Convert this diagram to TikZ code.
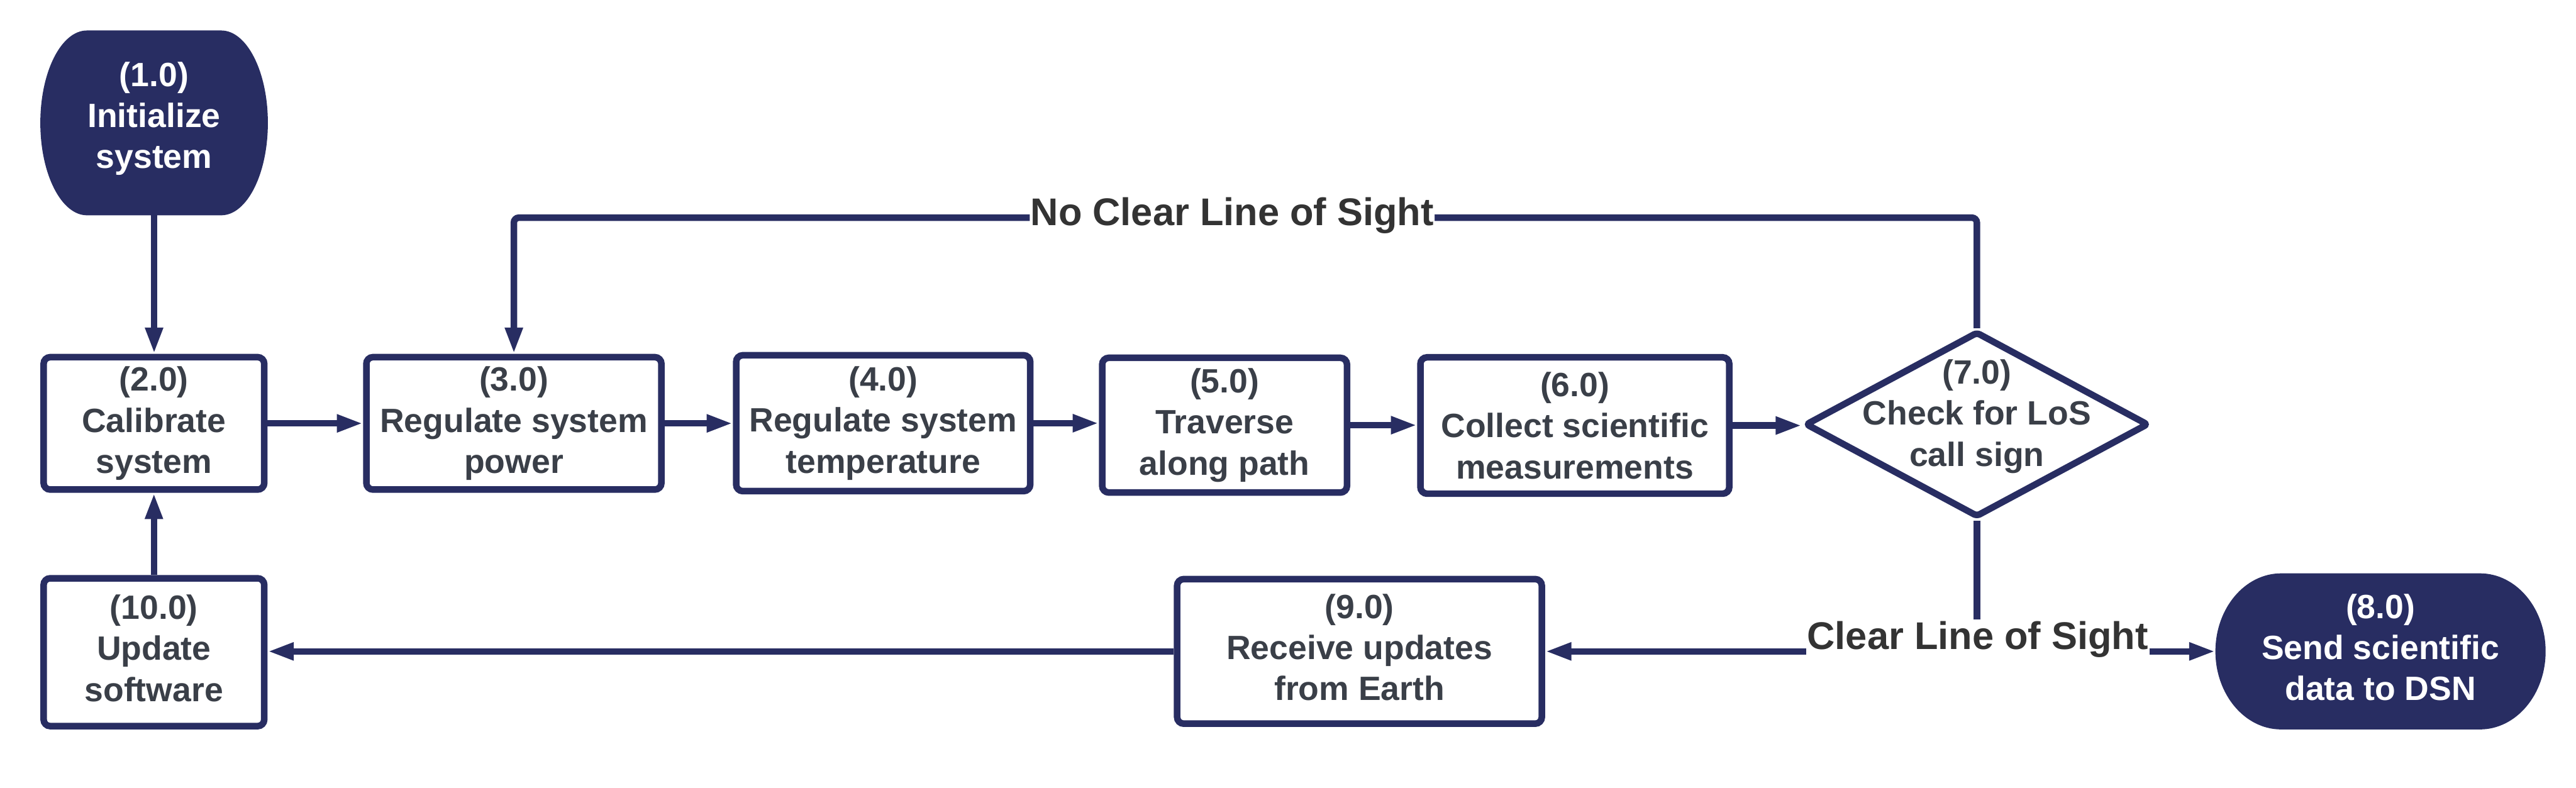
\documentclass[tikz,border=0pt]{standalone}
\usepackage{fontspec}
\setmainfont{Liberation Sans}
\usetikzlibrary{arrows.meta,shapes.geometric,backgrounds}
\definecolor{navy}{HTML}{282D62}
\definecolor{boxtext}{HTML}{3A3F48}
\definecolor{lbltext}{HTML}{333333}
\begin{document}
\begin{tikzpicture}[x=1pt,y=-1pt,
  every node/.style={font=\fontsize{20.5}{25}\selectfont\bfseries, align=center},
  stepbox/.style={draw=navy, line width=4pt, rounded corners=4pt, fill=white, text=boxtext, inner sep=0pt},
  term/.style={inner sep=0pt, outer sep=0pt, text=white},
  decision/.style={diamond, draw=navy, line width=4pt, rounded corners=2pt, fill=white, inner sep=0pt},
  conn/.style={draw=navy, line width=4pt},
  arr/.style={conn, -{Triangle[length=16pt,width=10pt]}},
  lbl/.style={font=\fontsize{23.5}{28}\selectfont\bfseries, text=lbltext, fill=white, inner xsep=0.5pt, inner ysep=1pt}
]
\useasboundingbox (0,0) rectangle (1568,479.4);

% nodes
\node[term, minimum width=138.5pt, minimum height=112.5pt, text depth=9.3pt] (n1) at (93.8,74.8) {(1.0)\\Initialize\\system};
\node[stepbox, minimum width=134.3pt, minimum height=80.6pt] (n2) at (93.7,257.7) {(2.0)\\Calibrate\\system};
\node[stepbox, minimum width=179.6pt, minimum height=80.6pt] (n3) at (312.8,257.7) {(3.0)\\Regulate system\\power};
\node[stepbox, minimum width=179pt, minimum height=82.7pt] (n4) at (537.6,257.6) {(4.0)\\Regulate system\\temperature};
\node[stepbox, minimum width=149pt, minimum height=82pt] (n5) at (745.4,258.8) {(5.0)\\Traverse\\along path};
\node[stepbox, minimum width=188pt, minimum height=83pt] (n6) at (958.6,259) {(6.0)\\Collect scientific\\measurements};
\node[decision, minimum width=209pt, minimum height=113pt] (n7) at (1203.3,258.3) {};
\node[text=boxtext] (t7) at (1203.3,253.5) {(7.0)\\Check for LoS\\call sign};
\node[term, minimum width=201pt, minimum height=95pt, text depth=5pt] (n8) at (1449,396.5) {(8.0)\\Send scientific\\data to DSN};
\node[stepbox, minimum width=222pt, minimum height=88pt, text depth=5pt] (n9) at (827.5,396.5) {(9.0)\\Receive updates\\from Earth};
\node[stepbox, minimum width=134.3pt, minimum height=90pt, text depth=5pt] (n10) at (93.7,397) {(10.0)\\Update\\software};

% terminal shapes
\begin{pgfonlayer}{background}
\fill[navy] ([xshift=28.4pt]n1.north west) -- ([xshift=-28.4pt]n1.north east)
  arc[start angle=90,end angle=-90,x radius=28.4pt,y radius=56.25pt]
  -- ([xshift=28.4pt]n1.south west)
  arc[start angle=270,end angle=90,x radius=28.4pt,y radius=56.25pt] -- cycle;
\fill[navy] ([xshift=40pt]n8.north west) -- ([xshift=-40pt]n8.north east)
  arc[start angle=90,end angle=-90,x radius=40pt,y radius=47.5pt]
  -- ([xshift=40pt]n8.south west)
  arc[start angle=270,end angle=90,x radius=40pt,y radius=47.5pt] -- cycle;
\end{pgfonlayer}

% connectors
\draw[arr] (n1.south) -- (n1.south |- n2.north);
\draw[arr] (n2.east) -- (n2.east -| n3.west);
\draw[arr] (n3.east) -- (n3.east -| n4.west);
\draw[arr] (n4.east) -- (n4.east -| n5.west);
\draw[arr] (n5.east) -- (n5.east -| n6.west);
\draw[arr] (n6.east) -- (n6.east -| n7.west);

\coordinate (ytop) at (0,132.5);
\draw[arr, rounded corners=3pt] (n7.north) -- (n7.north |- ytop)
  -- node[lbl, pos=0.509, anchor=base, yshift=-4.9pt] (nlos) {No Clear Line of Sight} (n3.north |- ytop)
  -- (n3.north);

\node[lbl, anchor=base] (cl) at (1203.8,395.3) {Clear Line of Sight};
\draw[conn] (n7.south) -- (n7.south |- cl.north);
\draw[arr] (cl.west |- n9.east) -- (n9.east);
\draw[arr] (cl.east |- n8.west) -- (n8.west);

\draw[arr] (n9.west) -- (n9.west -| n10.east);
\draw[arr] (n10.north) -- (n10.north |- n2.south);
\end{tikzpicture}
\end{document}
